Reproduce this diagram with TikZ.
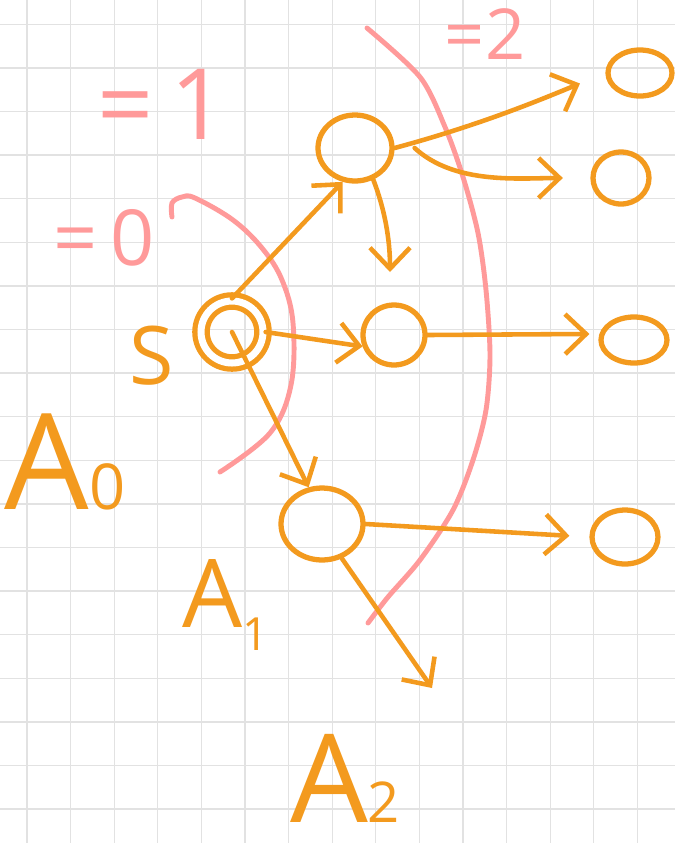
\documentclass[tikz,border=0pt]{standalone}
\usepackage{fontspec}
\setmainfont{Open Sans}
\usetikzlibrary{arrows.meta,shapes.geometric}
\definecolor{skOrange}{HTML}{F39A1E}
\definecolor{skPink}{HTML}{FF9A9A}
\definecolor{skGrid}{HTML}{E2E2E2}
\tikzset{
  % hand-drawn state (orange ring)
  stnode/.style={ellipse,draw=skOrange,line width=3pt,inner sep=0pt},
  % orange arrows
  arr/.style={-{Straight Barb[length=0.42cm,width=0.8cm]},line width=2.6pt,
    color=skOrange,line cap=round},
  % pink level boundaries
  bound/.style={skPink,line width=2.8pt,line cap=round},
  lbl/.style={text=skOrange,inner sep=0pt},
  plbl/.style={text=skPink,inner sep=0pt},
  gridline/.style={skGrid,line width=0.7pt},
}
\begin{document}
\begin{tikzpicture}[x=0.02cm,y=-0.02cm]
  \fill[white] (0,0) rectangle (675,843);
  \useasboundingbox (0,0) rectangle (675,843);

  % Grid paper
  \foreach \gx in {0,...,14}
    \draw[gridline] (27+43.6*\gx,0) -- (27+43.6*\gx,843);
  \foreach \gy in {0,...,18}
    \draw[gridline] (0,24.3+43.6*\gy) -- (675,24.3+43.6*\gy);

  % Level boundaries
  \draw[bound] plot[smooth,tension=0.6] coordinates {(172,217) (172,203) (182,197)
    (195,198) (233,220) (262,248) (282,280) (293,323) (291,385) (270,433) (220,472)};
  \draw[bound] plot[smooth] coordinates {(367,28) (420,77) (445,127) (463,177)
    (478,233) (486,290) (490,355) (486,410) (473,460) (453,510) (420,560) (388,597) (368,623)};

  % States
  \node[stnode,circle,minimum size=1.24cm,double=white,double distance=4pt] (s) at (232,332) {};
  \node[stnode,minimum width=1.48cm,minimum height=1.32cm] (t) at (355,148) {};
  \node[stnode,minimum width=1.24cm,minimum height=1.2cm] (m) at (394,335) {};
  \node[stnode,minimum width=1.64cm,minimum height=1.44cm] (l) at (322,524) {};
  \node[stnode,minimum width=1.28cm,minimum height=0.92cm] (o1) at (640,73) {};
  \node[stnode,minimum width=1.12cm,minimum height=1.04cm] (o2) at (621,178) {};
  \node[stnode,minimum width=1.32cm,minimum height=0.92cm] (o3) at (634,340) {};
  \node[stnode,minimum width=1.32cm,minimum height=1.08cm] (o4) at (625,537) {};
  \coordinate (tDown) at (390,272);
  \coordinate (lDown) at (432,688);

  % Transitions
  \draw[arr] (s.north) -- (t.250);
  \draw[arr] (t.300) .. controls (385,210) and (390,240) .. (tDown);
  \draw[arr,shorten >=0.55cm] (t.east) .. controls (480,125) and (540,100) .. (o1.west);
  \draw[arr,shorten >=0.55cm] ([xshift=0.4cm]t.east) .. controls (455,185) and (520,178) .. (o2.west);
  \draw[arr] (s.east) -- (m.200);
  \draw[arr,shorten >=0.2cm] (m.east) -- (o3.170);
  \draw[arr] (s.center) -- (l.110);
  \draw[arr,shorten >=0.4cm] (l.east) -- (o4.west);
  \draw[arr] (l.300) -- (lDown);

  % Labels
  \node[plbl,font=\fontsize{56}{56}\selectfont] (d1) at (162,104) {=\,1};
  \node[plbl,font=\fontsize{44}{44}\selectfont] (d0) at (104,238) {=\,0};
  \node[plbl,font=\fontsize{40}{40}\selectfont] (d2) at (485,34) {=2};
  \node[lbl,font=\fontsize{46}{46}\selectfont] (sLbl) at (152,356) {S};
  \node[lbl,font=\fontsize{76}{76}\selectfont] (a0) at (65,462) {A\fontsize{36}{36}\selectfont 0};
  \node[lbl,font=\fontsize{54}{54}\selectfont] (a1) at (226,605) {A\raisebox{-0.25em}{\fontsize{26}{26}\selectfont 1}};
  \node[lbl,font=\fontsize{70}{70}\selectfont] (a2) at (345,778) {A\fontsize{32}{32}\selectfont 2};
\end{tikzpicture}
\end{document}
